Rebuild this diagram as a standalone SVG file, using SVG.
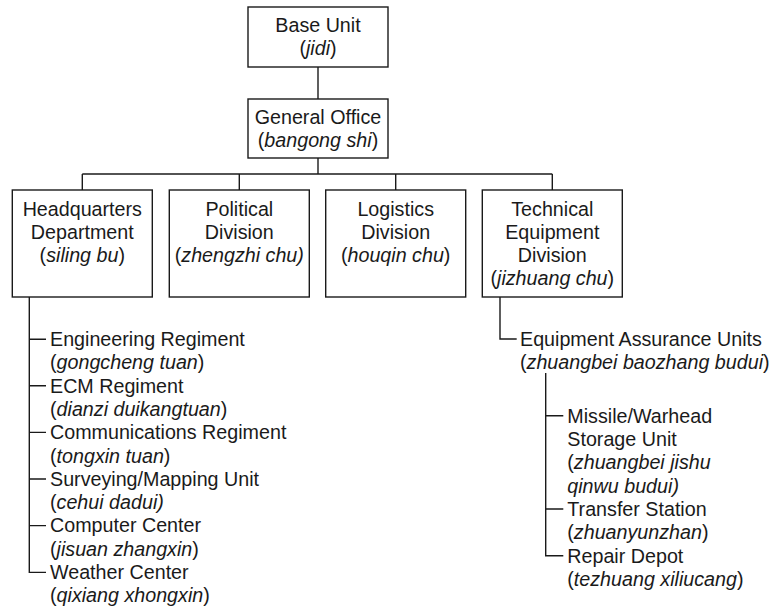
<svg xmlns="http://www.w3.org/2000/svg" width="772" height="609" viewBox="0 0 772 609">
  <style>
    .box { fill: #ffffff; stroke: #1a1a1a; stroke-width: 1.4; }
    .wire { fill: none; stroke: #1a1a1a; stroke-width: 1.4; }
    text { font-family: "Liberation Sans", Arial, Helvetica, sans-serif; font-size: 19.7px; fill: #1a1a1a; }
    .c { text-anchor: middle; }
    .i { font-style: italic; }
  </style>
  <rect width="772" height="609" fill="#ffffff"/>

  <!-- connectors -->
  <g id="connectors">
    <path class="wire" d="M318 67 V99"/>
    <path class="wire" d="M318 158 V174"/>
    <path class="wire" d="M82.3 174 H552.3"/>
    <path class="wire" d="M82.3 174 V190 M239.3 174 V190 M395.7 174 V190 M552.3 174 V190"/>
    <!-- headquarters subordinate list -->
    <path class="wire" d="M29.3 297 V572.4 H46"/>
    <path class="wire" d="M29.3 339.2 H46 M29.3 385.8 H46 M29.3 432.4 H46 M29.3 479 H46 M29.3 525.6 H46"/>
    <!-- technical equipment division branch -->
    <path class="wire" d="M500 297 V339 H516.7"/>
    <path class="wire" d="M545.7 373 V555.7 H563.3"/>
    <path class="wire" d="M545.7 415.7 H563.3 M545.7 509 H563.3"/>
  </g>

  <g id="base-unit">
    <rect class="box" x="248" y="7" width="140" height="60"/>
    <text class="c" x="318" y="32">Base Unit</text>
    <text class="c" x="318" y="55">(<tspan class="i">jidi</tspan>)</text>
  </g>

  <g id="general-office">
    <rect class="box" x="248" y="99" width="140" height="59"/>
    <text class="c" x="318" y="124">General Office</text>
    <text class="c" x="318" y="147">(<tspan class="i">bangong shi</tspan>)</text>
  </g>

  <g id="headquarters">
    <rect class="box" x="12.3" y="190" width="140" height="107"/>
    <text class="c" x="82.3" y="216">Headquarters</text>
    <text class="c" x="82.3" y="239.3">Department</text>
    <text class="c" x="82.3" y="262.3">(<tspan class="i">siling bu</tspan>)</text>
  </g>

  <g id="political">
    <rect class="box" x="169.3" y="190" width="140" height="107"/>
    <text class="c" x="239.3" y="216">Political</text>
    <text class="c" x="239.3" y="239.3">Division</text>
    <text class="c" x="239.3" y="262.3">(<tspan class="i">zhengzhi chu)</tspan></text>
  </g>

  <g id="logistics">
    <rect class="box" x="325.7" y="190" width="140" height="107"/>
    <text class="c" x="395.7" y="216">Logistics</text>
    <text class="c" x="395.7" y="239.3">Division</text>
    <text class="c" x="395.7" y="262.3">(<tspan class="i">houqin chu</tspan>)</text>
  </g>

  <g id="technical-equipment">
    <rect class="box" x="482.3" y="190" width="140" height="107"/>
    <text class="c" x="552.3" y="215.5">Technical</text>
    <text class="c" x="552.3" y="238.6">Equipment</text>
    <text class="c" x="552.3" y="261.7">Division</text>
    <text class="c" x="552.3" y="284.8">(<tspan class="i">jizhuang chu</tspan>)</text>
  </g>

  <g id="engineering-regiment">
    <text x="50" y="346">Engineering Regiment</text>
    <text x="50" y="369.3">(<tspan class="i">gongcheng tuan</tspan>)</text>
  </g>
  <g id="ecm-regiment">
    <text x="50" y="392.6">ECM Regiment</text>
    <text x="50" y="415.9">(<tspan class="i">dianzi duikangtuan</tspan>)</text>
  </g>
  <g id="communications-regiment">
    <text x="50" y="439.2">Communications Regiment</text>
    <text x="50" y="462.5">(<tspan class="i">tongxin tuan</tspan>)</text>
  </g>
  <g id="surveying-mapping">
    <text x="50" y="485.8">Surveying/Mapping Unit</text>
    <text x="50" y="509.1">(<tspan class="i">cehui dadui)</tspan></text>
  </g>
  <g id="computer-center">
    <text x="50" y="532.4">Computer Center</text>
    <text x="50" y="555.7">(<tspan class="i">jisuan zhangxin</tspan>)</text>
  </g>
  <g id="weather-center">
    <text x="50" y="579">Weather Center</text>
    <text x="50" y="602.3">(<tspan class="i">qixiang xhongxin</tspan>)</text>
  </g>

  <g id="equipment-assurance">
    <text x="520" y="345.5">Equipment Assurance Units</text>
    <text x="520" y="368.5">(<tspan class="i">zhuangbei baozhang budui</tspan>)</text>
  </g>
  <g id="missile-warhead-storage">
    <text x="567.3" y="422.7">Missile/Warhead</text>
    <text x="567.3" y="446">Storage Unit</text>
    <text x="567.3" y="469.3">(<tspan class="i">zhuangbei jishu</tspan></text>
    <text x="567.3" y="492.6" class="i">qinwu budui)</text>
  </g>
  <g id="transfer-station">
    <text x="567.3" y="516">Transfer Station</text>
    <text x="567.3" y="539.3">(<tspan class="i">zhuanyunzhan</tspan>)</text>
  </g>
  <g id="repair-depot">
    <text x="567.3" y="562.6">Repair Depot</text>
    <text x="567.3" y="585.9">(<tspan class="i">tezhuang xiliucang</tspan>)</text>
  </g>
</svg>
